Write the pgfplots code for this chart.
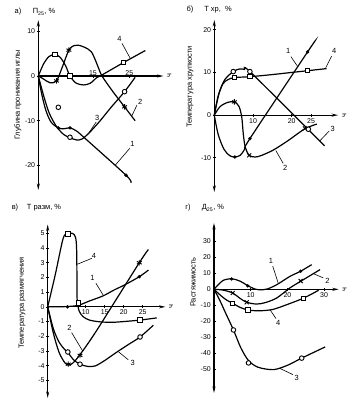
\documentclass[border=0pt]{standalone}
\usepackage{fontspec}
\setmainfont{Liberation Sans}
\usepackage{pgfplots}
\pgfplotsset{compat=1.18}
\usetikzlibrary{arrows.meta}
\pgfplotsset{
  pan/.style={
    axis lines=middle,
    anchor=south west,
    xmin=0,
    axis line style={line width=1.1bp},
    x axis line style={-{Stealth[length=6.5bp,width=3bp]}},
    y axis line style={{Stealth[length=6.5bp,width=3bp]}-{Stealth[length=6.5bp,width=3bp]}},
    tick label style={font=\fontsize{7}{8}\selectfont, inner sep=1.5bp},
    /pgf/number format/assume math mode=true,
    hide obscured x ticks=false,
    hide obscured y ticks=false,
    major tick length=3bp,
    tick align=center,
    every tick/.style={black, line width=0.7bp},
    clip=false,
    minor tick num=0,
  },
  cur/.style={black, line width=1.2bp, smooth, tension=0.5, no marks},
  mk1/.style={only marks, mark=*, mark size=1.5bp, mark options={black}},
  mk2/.style={only marks, mark=asterisk, mark size=2.8bp, mark options={black, line width=0.9bp}},
  mk2x/.style={only marks, mark=x, mark size=2.8bp, mark options={black, line width=0.9bp}},
  mk3/.style={only marks, mark=*, mark size=2.3bp, mark options={draw=black, fill=white, line width=0.9bp}},
  mk4/.style={only marks, mark=square*, mark size=2.2bp, mark options={draw=black, fill=white, line width=0.9bp}},
}
\newcommand{\cl}{\fontsize{7.5}{8.5}\selectfont}
\begin{document}
\begin{tikzpicture}
\useasboundingbox (0,0) rectangle (359bp,402bp);
% ---------------- panel a
\begin{axis}[pan, at={(38.3bp,212bp)}, x=3.64bp, y=4.47bp,
  xmax=34.4, ymin=-25.5, ymax=12.5,
  xtick={15,25}, ytick={-20,-10,0,10},
  xticklabel style={anchor=south}]
\addplot[cur] coordinates {(0,0) (0.8,-3.5) (2,-7.5) (3.5,-10.3) (5.5,-11.6) (7,-11.8) (8.7,-11.6) (10.5,-12.3) (12.5,-13.7) (24.1,-22.2) (25.5,-23.9)};
\addplot[mk1] coordinates {(5.5,-11.6) (8.7,-11.6) (24.1,-22.2)};
\addplot[cur] coordinates {(0,0) (1.5,-0.7) (3.2,-1.5) (5,-1.1) (6.5,1.8) (8.4,5.8) (9.8,6.8) (10.9,6.9) (12.5,6.5) (14.6,5.4) (16.4,2.1) (17.5,0) (20.5,-3.5) (23.7,-6.9) (26.6,-10)};
\addplot[mk2] coordinates {(5,-1.1) (8.4,5.8) (23.7,-6.9)};
\addplot[cur] coordinates {(0,0) (1.5,-4.5) (3,-8.3) (5,-11.3) (7,-13.1) (8.7,-13.8) (10.5,-14.3) (12,-14.1) (14,-12.7) (17,-10) (20,-7) (23.7,-3.5) (26.6,-0.3)};
\addplot[mk3] coordinates {(5.5,-7) (8.7,-13.7) (23.7,-3.5)};
\addplot[cur] coordinates {(0,0) (1.5,2.8) (3,4.4) (4.6,4.8) (6,4.2) (7.5,2.3) (8.7,0) (10.4,-1.6) (12.5,-2.0) (14.3,-1.6) (16,-0.4) (17.2,0.1) (23.4,3) (29.4,5.7)};
\addplot[mk4] coordinates {(4.6,4.8) (8.7,0) (23.4,3)};
\draw[line width=0.6bp] (23,7.3) -- (25.3,3.9);
\node[font=\cl] at (22.3,8.4) {4};
\draw[line width=0.6bp] (27.1,-6.5) -- (25.7,-8.9);
\node[font=\cl] at (28,-5.7) {2};
\draw[line width=0.6bp] (15.9,-10.3) -- (14,-12.6);
\node[font=\cl] at (16.2,-9.4) {3};
\draw[line width=0.6bp] (25.1,-16.2) -- (21.1,-20);
\node[font=\cl] at (25.9,-15.2) {1};
\node[font=\cl, rotate=90] at (36,0) {ч};
\end{axis}
% ---------------- panel b
\begin{axis}[pan, at={(214.3bp,210bp)}, x=3.87bp, y=4.27bp,
  xmax=32, ymin=-18, ymax=22.3,
  xtick={10,20,25}, ytick={-10,0,10,20}]
\addplot[cur] coordinates {(0,0) (1,-4.5) (2.5,-8) (4,-9.5) (5.3,-9.8) (6.7,-9.4) (7.9,-7.9) (9.2,-5.5) (24.1,14.8) (26,17.3)};
\addplot[mk1] coordinates {(5.3,-9.8) (9.2,-5.5) (24.1,14.8)};
\addplot[cur] coordinates {(0,0) (1.5,2) (3.5,3) (5.2,3.1) (6.4,2.0) (7.1,-0.5) (7.5,-4.5) (8,-7.5) (9,-9.4) (10.5,-9.8) (12,-9.5) (15.2,-8.2) (19,-6) (23.4,-3.2) (26.5,-2.1)};
\addplot[mk2] coordinates {(5.2,3.1)};
\addplot[mk2x] coordinates {(9,-9.4) (23.4,-3.1)};
\addplot[cur] coordinates {(0,0) (1.2,5) (2.7,8.3) (4.9,10.2) (6.5,10.8) (7.8,10.7) (9.2,10.2) (24.3,-3.4) (28.5,-7.2)};
\addplot[mk3] coordinates {(4.9,10.2) (9.2,10.2) (24.3,-3.3)};
\addplot[cur] coordinates {(0,0) (1,4.5) (2.2,7.3) (3.5,8.3) (5.2,8.8) (9.2,9.0) (15,9.5) (20,10) (24.1,10.4) (29,10.9)};
\addplot[mk4] coordinates {(5.2,8.8) (9.2,9.0) (24.1,10.4)};
\draw[line width=0.6bp] (19.8,13.7) -- (21.6,11.3);
\node[font=\cl] at (19.1,15) {1};
\draw[line width=0.6bp] (30.3,13.8) -- (28.8,11.1);
\node[font=\cl] at (31,15) {4};
\draw[line width=0.6bp] (29.7,-3.7) -- (27.3,-6.0);
\node[font=\cl] at (30.6,-3.3) {3};
\draw[line width=0.6bp] (17.8,-11.3) -- (15.9,-8.3);
\node[font=\cl] at (18.3,-12.3) {2};
\node[font=\cl, rotate=90] at (33.6,0) {ч};
\end{axis}
% ---------------- panel v
\begin{axis}[pan, at={(47.7bp,4bp)}, x=3.8bp, y=14.7bp,
  xmax=31, ymin=-6.2, ymax=5.6,
  xtick={10,15,20,25}, ytick={-5,-4,-3,-2,-1,0,1,2,3,4,5}]
\addplot[cur] coordinates {(0,0) (2.5,0) (5,0.02) (8,0.1) (11,0.4) (14.6,0.75) (17.5,1.15) (20.3,1.5) (24.1,2.05) (26.5,2.5)};
\addplot[mk1] coordinates {(5.2,0) (24.1,2.05)};
\addplot[cur] coordinates {(0,0) (1.5,-1.8) (3,-3.1) (4.5,-3.8) (5.4,-3.95) (6.5,-3.85) (8.5,-3.25) (12.9,-1.6) (24.1,3.0) (26.5,3.9)};
\addplot[mk2] coordinates {(5.4,-3.9) (8.5,-3.3) (24.1,3.0)};
\addplot[cur] coordinates {(0,0) (1.5,-1.5) (3,-2.4) (4.3,-2.85) (5.3,-3.1) (6.8,-3.6) (8.5,-3.9) (10.5,-4.05) (12.5,-4.02) (15,-3.65) (17.5,-3.2) (21,-2.6) (24.3,-2.05) (27.8,-1.25)};
\addplot[mk3] coordinates {(5.3,-3.07) (8.5,-3.9) (24.3,-2.05)};
\addplot[cur] coordinates {(0,0) (2,2.2) (4,4.6) (5,4.95) (6.5,5.0) (7.3,4.75) (7.6,4.0) (7.7,2) (7.75,0.5) (8.3,-0.3) (9.4,-0.68) (11,-0.9) (13.8,-1.02) (17,-1.05) (20,-1.0) (24.3,-0.9) (28.7,-0.75)};
\addplot[mk4] coordinates {(5.3,4.97) (8.1,0.27) (24.3,-0.9)};
\draw[line width=0.6bp] (11.6,3.3) -- (7.8,2.9);
\node[font=\cl] at (12.2,3.45) {4};
\draw[line width=0.6bp] (12.7,1.6) -- (14.6,0.8);
\node[font=\cl] at (11.8,1.95) {1};
\draw[line width=0.6bp] (6.3,-1.75) -- (9.2,-3.0);
\node[font=\cl] at (5.7,-1.4) {2};
\draw[line width=0.6bp] (21.2,-3.6) -- (18.6,-3.05);
\node[font=\cl] at (22.4,-3.8) {3};
\node[font=\cl, rotate=90] at (32.5,0) {ч};
\end{axis}
% ---------------- panel g
\begin{axis}[pan, at={(214bp,9bp)}, x=3.67bp, y=1.6bp,
  xmax=34, ymin=-64.8, ymax=41.5,
  xtick={10,20,30}, ytick={-50,-40,-30,-20,-10,0,10,20,30}]
\addplot[cur] coordinates {(0,0) (1,2.5) (2.5,5.6) (4.8,6.6) (7,5.2) (9.2,2.3) (11,0.3) (12.5,-0.3) (14.5,0.2) (17.1,2.9) (20.7,8.1) (23.6,11.3) (26.6,15.4)};
\addplot[mk1] coordinates {(4.8,6.5) (9.2,2.2) (23.6,11.3)};
\addplot[cur] coordinates {(0,0) (2.5,-0.5) (5.1,-2.3) (7,-5.5) (8.9,-8.1) (11.6,-9.2) (14,-8.3) (17.1,-5.4) (20.7,0.9) (23.6,5) (28.9,12.3)};
\addplot[mk2x] coordinates {(5.1,-2.3) (8.9,-8.1) (23.6,5.2)};
\addplot[cur] coordinates {(0,0) (1.5,-6.5) (3.5,-16.5) (5.3,-25.4) (7.3,-36.5) (9.4,-44.5) (12,-48.7) (16.2,-50.2) (20,-47.5) (23.9,-43) (30.3,-36)};
\addplot[mk3] coordinates {(5.3,-25.4) (9.4,-46) (23.9,-43)};
\addplot[cur] coordinates {(0,0) (2,-4.2) (3.5,-6.8) (5.1,-8.7) (7,-11.2) (9.2,-12.9) (11.5,-13.4) (13.5,-13.3) (16,-12.6) (19,-10.3) (24.3,-5.6) (28.5,-0.6)};
\addplot[mk4] coordinates {(5.1,-8.7) (9.2,-12.9) (24.3,-5.6)};
\draw[line width=0.6bp] (16,14.5) -- (17.5,3.8);
\node[font=\cl] at (15.5,17.8) {1};
\draw[line width=0.6bp] (29.8,7.1) -- (27.1,9.8);
\node[font=\cl] at (30.9,5.4) {2};
\draw[line width=0.6bp] (16.9,-18.3) -- (15.3,-12.9);
\node[font=\cl] at (17.5,-20.8) {4};
\draw[line width=0.6bp] (21.5,-53.3) -- (18,-49.5);
\node[font=\cl] at (22.5,-55.5) {3};
\node[font=\cl, rotate=90] at (35.6,0) {ч};
\end{axis}
% ---------------- titles and axis labels
\node[font=\cl] at (18bp,390bp) {а)};
\node[font=\cl] at (44bp,390bp) {П\textsubscript{25}, \%};
\node[font=\cl, rotate=90] at (18bp,307bp) {Глубина проникания иглы};
\node[font=\cl] at (190bp,392bp) {б)};
\node[font=\cl] at (218bp,392bp) {T хр,\ \ \%};
\node[font=\cl, rotate=90] at (190bp,315bp) {Температура хрупкости};
\node[font=\cl] at (15bp,194bp) {в)};
\node[font=\cl] at (44bp,194bp) {T разм, \%};
\node[font=\cl, rotate=90] at (22bp,99bp) {Температура размягчения};
\node[font=\cl] at (188bp,194bp) {г)};
\node[font=\cl] at (213bp,194bp) {Д\textsubscript{25}, \%};
\node[font=\cl, rotate=90] at (193bp,120bp) {Растяжимость};
\end{tikzpicture}
\end{document}
